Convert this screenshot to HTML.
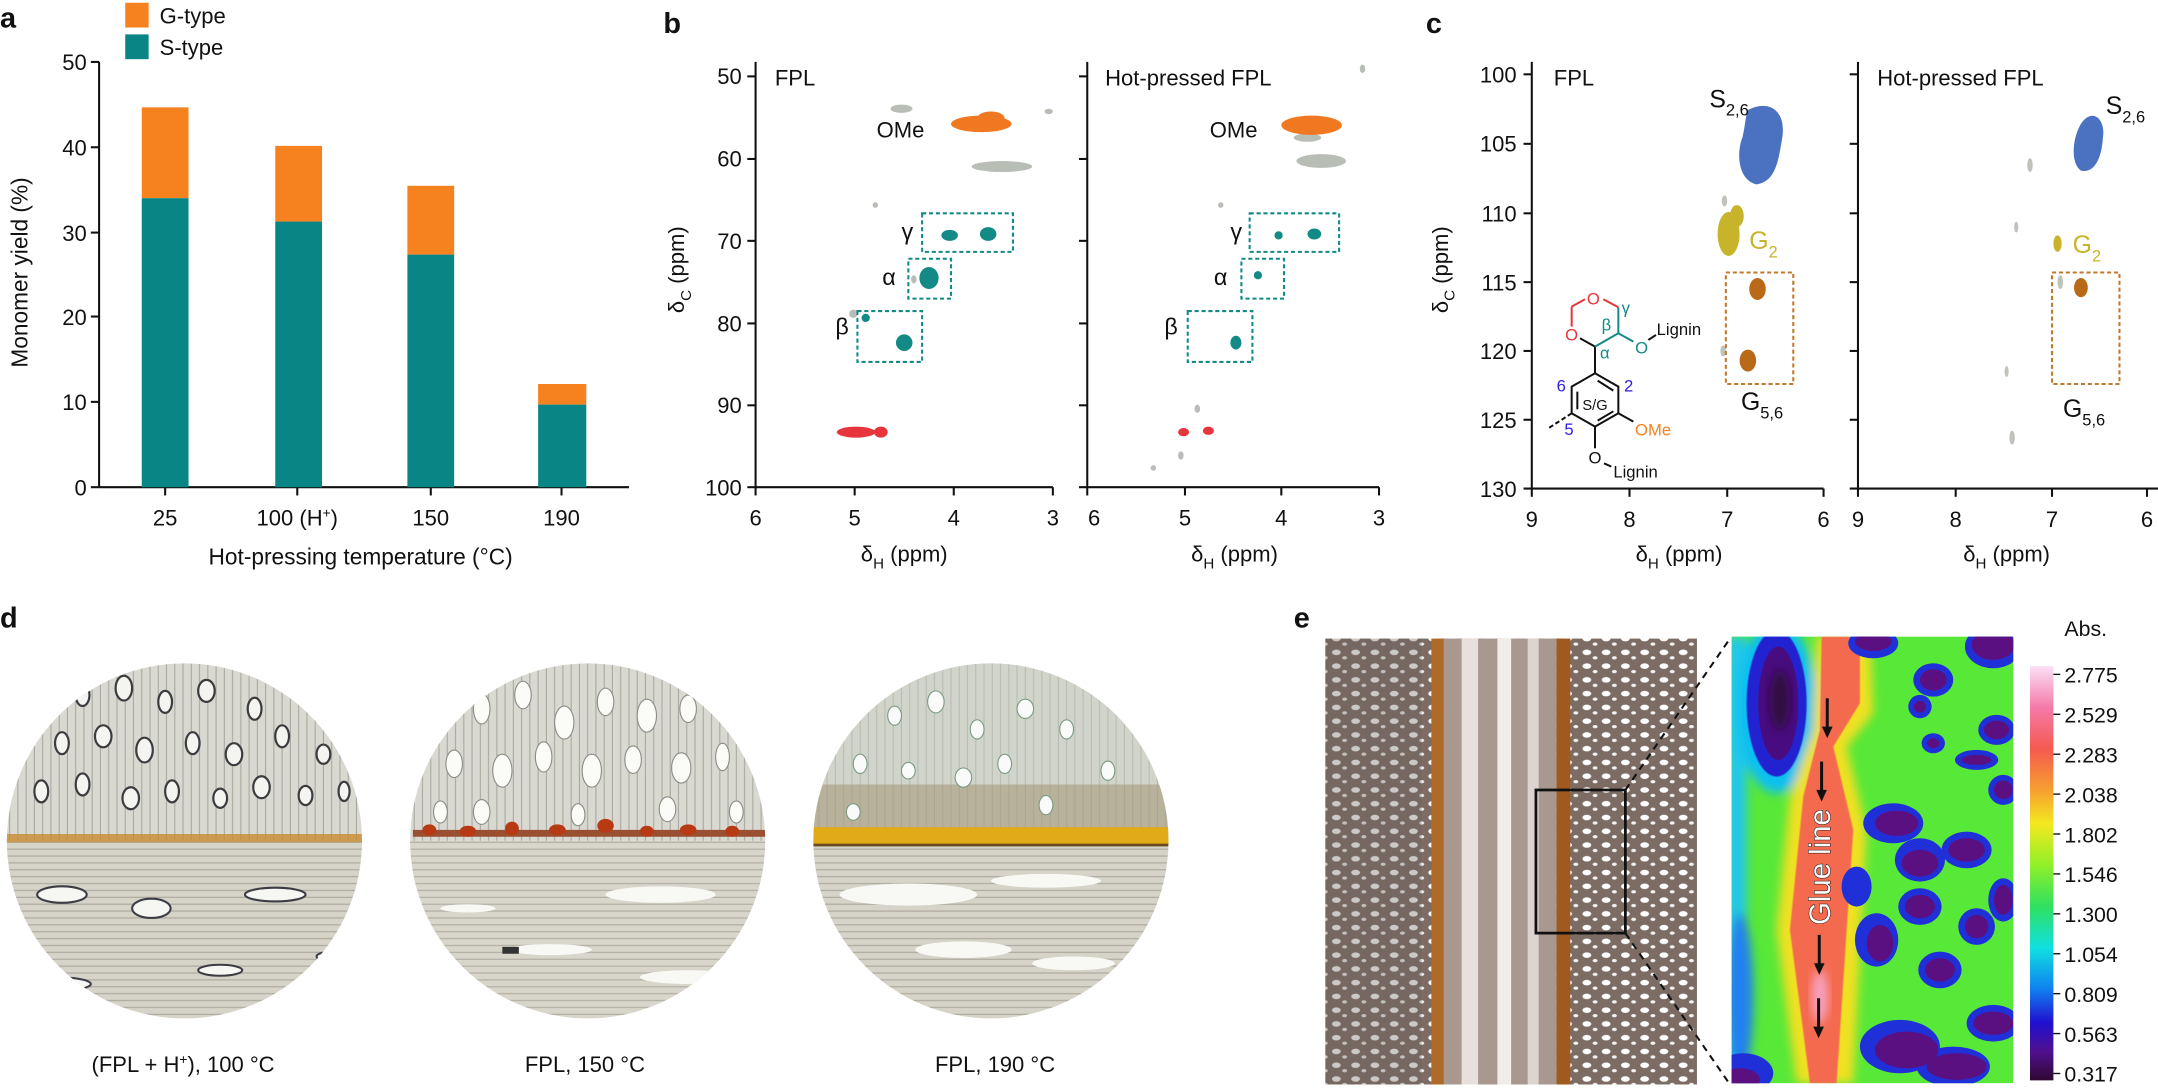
<!DOCTYPE html>
<html><head><meta charset="utf-8"><style>
html,body{margin:0;padding:0;background:#fff;}
svg{display:block;}
text{font-family:"Liberation Sans",Arial,sans-serif;fill:#111;}
</style></head><body>
<svg width="2158" height="1090" viewBox="0 0 1568 792" preserveAspectRatio="none" xmlns="http://www.w3.org/2000/svg">
<defs>
<filter id="bl" x="-20%" y="-20%" width="140%" height="140%"><feGaussianBlur stdDeviation="14"/></filter>
<filter id="bl2"><feGaussianBlur stdDeviation="1.2"/></filter>
<linearGradient id="cb" x1="0" y1="0" x2="0" y2="1">
<stop offset="0" stop-color="#fbe0f6"/><stop offset="0.1" stop-color="#f47aa8"/><stop offset="0.2" stop-color="#f55a50"/><stop offset="0.3" stop-color="#f6a030"/><stop offset="0.38" stop-color="#f4e820"/><stop offset="0.48" stop-color="#90f028"/><stop offset="0.58" stop-color="#30e060"/><stop offset="0.68" stop-color="#10e0e0"/><stop offset="0.78" stop-color="#1080f0"/><stop offset="0.86" stop-color="#2010d0"/><stop offset="0.93" stop-color="#501090"/><stop offset="1" stop-color="#300830"/>
</linearGradient>
<clipPath id="c1"><circle cx="134" cy="611" r="129"/></clipPath>
<clipPath id="c2"><circle cx="427" cy="611" r="129"/></clipPath>
<clipPath id="c3"><circle cx="720" cy="611" r="129"/></clipPath>
<clipPath id="hm"><rect x="35" y="20" width="845" height="1340"/></clipPath>
<pattern id="vs" width="6" height="10" patternUnits="userSpaceOnUse"><rect width="6" height="10" fill="#d9d9d2"/><line x1="1" y1="0" x2="1" y2="10" stroke="#a9a9a2" stroke-width="0.8"/></pattern>
<pattern id="hs" width="10" height="5" patternUnits="userSpaceOnUse"><rect width="10" height="5" fill="#d6d3c8"/><line x1="0" y1="2" x2="10" y2="2" stroke="#aaa79c" stroke-width="0.8"/></pattern>
<pattern id="br" width="14" height="10" patternUnits="userSpaceOnUse"><rect width="14" height="10" fill="#7c6c64"/><ellipse cx="5" cy="4" rx="3.2" ry="2" fill="#fff"/><ellipse cx="11" cy="8" rx="1.8" ry="1.2" fill="#f2f2f2"/></pattern>
</defs>

<!-- Panel a -->
<text x="0" y="20" font-size="21" font-weight="bold">a</text>
<rect x="91" y="2" width="17" height="18" fill="#f5821f"/>
<rect x="91" y="25" width="17" height="18" fill="#0a8585"/>
<text x="116" y="17" font-size="16">G-type</text>
<text x="116" y="40" font-size="16">S-type</text>
<g stroke="#111" stroke-width="1.5" fill="none">
<line x1="72" y1="45" x2="72" y2="354"/><line x1="72" y1="354" x2="457" y2="354"/>
<line x1="66" y1="45" x2="72" y2="45"/><line x1="66" y1="107" x2="72" y2="107"/><line x1="66" y1="169" x2="72" y2="169"/><line x1="66" y1="230" x2="72" y2="230"/><line x1="66" y1="292" x2="72" y2="292"/><line x1="66" y1="354" x2="72" y2="354"/>
<line x1="120" y1="354" x2="120" y2="360"/><line x1="216" y1="354" x2="216" y2="360"/><line x1="313" y1="354" x2="313" y2="360"/><line x1="408" y1="354" x2="408" y2="360"/>
</g>
<g font-size="16" text-anchor="end">
<text x="63" y="51">50</text><text x="63" y="113">40</text><text x="63" y="175">30</text><text x="63" y="236">20</text><text x="63" y="298">10</text><text x="63" y="360">0</text>
</g>
<rect x="103" y="78" width="34" height="66" fill="#f5821f"/><rect x="103" y="144" width="34" height="210" fill="#0a8585"/>
<rect x="200" y="106" width="34" height="55" fill="#f5821f"/><rect x="200" y="161" width="34" height="193" fill="#0a8585"/>
<rect x="296" y="135" width="34" height="50" fill="#f5821f"/><rect x="296" y="185" width="34" height="169" fill="#0a8585"/>
<rect x="391" y="279" width="35" height="15" fill="#f5821f"/><rect x="391" y="294" width="35" height="60" fill="#0a8585"/>
<g font-size="16" text-anchor="middle">
<text x="120" y="382">25</text><text x="216" y="382">100 (H<tspan font-size="10" dy="-6">+</tspan><tspan dy="6">)</tspan></text><text x="313" y="382">150</text><text x="408" y="382">190</text>
<text x="262" y="410" font-size="16.5">Hot-pressing temperature (°C)</text>
<text transform="translate(20,198) rotate(-90)" font-size="16.5">Monomer yield (%)</text>
</g>

<!-- Panel b -->
<text x="482" y="24" font-size="21" font-weight="bold">b</text>
<g stroke="#111" stroke-width="1.5">
<line x1="549" y1="45" x2="549" y2="354"/><line x1="549" y1="354" x2="765" y2="354"/>
<line x1="790" y1="45" x2="790" y2="354"/><line x1="784" y1="354" x2="1002" y2="354"/>
<line x1="543" y1="55.5" x2="549" y2="55.5"/><line x1="543" y1="115.5" x2="549" y2="115.5"/><line x1="543" y1="175" x2="549" y2="175"/><line x1="543" y1="235" x2="549" y2="235"/><line x1="543" y1="294.5" x2="549" y2="294.5"/><line x1="543" y1="354" x2="549" y2="354"/>
<line x1="784" y1="55.5" x2="790" y2="55.5"/><line x1="784" y1="115.5" x2="790" y2="115.5"/><line x1="784" y1="175" x2="790" y2="175"/><line x1="784" y1="235" x2="790" y2="235"/><line x1="784" y1="294.5" x2="790" y2="294.5"/>
<line x1="549" y1="354" x2="549" y2="360"/><line x1="621" y1="354" x2="621" y2="360"/><line x1="693" y1="354" x2="693" y2="360"/><line x1="765" y1="354" x2="765" y2="360"/>
<line x1="790" y1="354" x2="790" y2="360"/><line x1="861" y1="354" x2="861" y2="360"/><line x1="931" y1="354" x2="931" y2="360"/><line x1="1002" y1="354" x2="1002" y2="360"/>
</g>
<g font-size="16" text-anchor="end">
<text x="539" y="61">50</text><text x="539" y="121">60</text><text x="539" y="181">70</text><text x="539" y="241">80</text><text x="539" y="300">90</text><text x="539" y="360">100</text>
</g>
<g font-size="16" text-anchor="middle">
<text x="549" y="382">6</text><text x="621" y="382">5</text><text x="693" y="382">4</text><text x="765" y="382">3</text>
<text x="795" y="382">6</text><text x="861" y="382">5</text><text x="931" y="382">4</text><text x="1002" y="382">3</text>
<text x="657" y="408">δ<tspan font-size="11" dy="5">H</tspan><tspan dy="-5"> (ppm)</tspan></text>
<text x="897" y="408">δ<tspan font-size="11" dy="5">H</tspan><tspan dy="-5"> (ppm)</tspan></text>
<text transform="translate(497,196) rotate(-90)">δ<tspan font-size="11" dy="5">C</tspan><tspan dy="-5"> (ppm)</tspan></text>
</g>
<text x="563" y="62" font-size="16">FPL</text>
<text x="803" y="62" font-size="16">Hot-pressed FPL</text>
<!-- b left peaks -->
<g fill="#b8bdb6"><ellipse cx="655" cy="79" rx="8" ry="3"/><ellipse cx="728" cy="121" rx="22" ry="4"/><ellipse cx="762" cy="81" rx="3" ry="2"/><ellipse cx="636" cy="149" rx="2" ry="2"/><ellipse cx="664" cy="203" rx="2" ry="3"/><ellipse cx="620" cy="228" rx="3" ry="3"/></g>
<ellipse cx="713" cy="90" rx="22" ry="6" fill="#f07820"/><ellipse cx="720" cy="86" rx="10" ry="5" fill="#f07820"/>
<text x="637" y="100" font-size="16">OMe</text>
<ellipse cx="690" cy="171" rx="6" ry="4" fill="#138a85"/><ellipse cx="718" cy="170" rx="6" ry="5" fill="#138a85"/>
<ellipse cx="675" cy="202" rx="7" ry="8" fill="#138a85"/>
<ellipse cx="657" cy="249" rx="6" ry="6" fill="#138a85"/><ellipse cx="629" cy="231" rx="3" ry="3" fill="#138a85"/>
<ellipse cx="622" cy="314" rx="14" ry="4" fill="#e8343c"/><ellipse cx="640" cy="314" rx="5" ry="4" fill="#e8343c"/>
<g fill="none" stroke="#148a86" stroke-width="1.5" stroke-dasharray="3,2">
<rect x="670" y="155" width="66" height="28"/><rect x="660" y="188" width="31" height="29"/><rect x="623" y="226" width="47" height="37"/>
<rect x="908" y="155" width="65" height="28"/><rect x="902" y="188" width="31" height="29"/><rect x="863" y="226" width="47" height="37"/>
</g>
<g font-size="17"><text x="655" y="174">γ</text><text x="641" y="207">α</text><text x="607" y="243">β</text>
<text x="894" y="174">γ</text><text x="882" y="207">α</text><text x="846" y="243">β</text></g>
<!-- b right peaks -->
<g fill="#b8bdb6"><ellipse cx="960" cy="117" rx="18" ry="5"/><ellipse cx="950" cy="100" rx="10" ry="3"/><ellipse cx="990" cy="50" rx="2" ry="3"/><ellipse cx="887" cy="149" rx="2" ry="2"/><ellipse cx="858" cy="331" rx="2" ry="3"/><ellipse cx="838" cy="340" rx="2" ry="2"/><ellipse cx="870" cy="297" rx="2" ry="3"/></g>
<ellipse cx="953" cy="91" rx="22" ry="7" fill="#f07820"/>
<text x="879" y="100" font-size="16">OMe</text>
<ellipse cx="929" cy="171" rx="3" ry="3" fill="#138a85"/><ellipse cx="955" cy="170" rx="5" ry="4" fill="#138a85"/>
<ellipse cx="914" cy="200" rx="3" ry="3" fill="#138a85"/><ellipse cx="898" cy="249" rx="4" ry="5" fill="#138a85"/>
<ellipse cx="860" cy="314" rx="4" ry="3" fill="#e8343c"/><ellipse cx="878" cy="313" rx="4" ry="3" fill="#e8343c"/>

<!-- Panel c -->
<text x="1036" y="24" font-size="21" font-weight="bold">c</text>
<g stroke="#111" stroke-width="1.5">
<line x1="1113" y1="45" x2="1113" y2="355"/><line x1="1107" y1="355" x2="1325" y2="355"/>
<line x1="1350" y1="45" x2="1350" y2="355"/><line x1="1344" y1="355" x2="1568" y2="355"/>
<line x1="1107" y1="54" x2="1113" y2="54"/><line x1="1107" y1="104.5" x2="1113" y2="104.5"/><line x1="1107" y1="155" x2="1113" y2="155"/><line x1="1107" y1="205" x2="1113" y2="205"/><line x1="1107" y1="255" x2="1113" y2="255"/><line x1="1107" y1="305" x2="1113" y2="305"/>
<line x1="1344" y1="54" x2="1350" y2="54"/><line x1="1344" y1="104.5" x2="1350" y2="104.5"/><line x1="1344" y1="155" x2="1350" y2="155"/><line x1="1344" y1="205" x2="1350" y2="205"/><line x1="1344" y1="255" x2="1350" y2="255"/><line x1="1344" y1="305" x2="1350" y2="305"/>
<line x1="1113" y1="355" x2="1113" y2="361"/><line x1="1184" y1="355" x2="1184" y2="361"/><line x1="1255" y1="355" x2="1255" y2="361"/><line x1="1325" y1="355" x2="1325" y2="361"/>
<line x1="1350" y1="355" x2="1350" y2="361"/><line x1="1421" y1="355" x2="1421" y2="361"/><line x1="1491" y1="355" x2="1491" y2="361"/><line x1="1560" y1="355" x2="1560" y2="361"/>
</g>
<g font-size="16" text-anchor="end">
<text x="1102" y="60">100</text><text x="1102" y="110">105</text><text x="1102" y="161">110</text><text x="1102" y="211">115</text><text x="1102" y="261">120</text><text x="1102" y="311">125</text><text x="1102" y="361">130</text>
</g>
<g font-size="16" text-anchor="middle">
<text x="1113" y="383">9</text><text x="1184" y="383">8</text><text x="1255" y="383">7</text><text x="1325" y="383">6</text>
<text x="1350" y="383">9</text><text x="1421" y="383">8</text><text x="1491" y="383">7</text><text x="1560" y="383">6</text>
<text x="1220" y="408">δ<tspan font-size="11" dy="5">H</tspan><tspan dy="-5"> (ppm)</tspan></text>
<text x="1458" y="408">δ<tspan font-size="11" dy="5">H</tspan><tspan dy="-5"> (ppm)</tspan></text>
<text transform="translate(1052,196) rotate(-90)">δ<tspan font-size="11" dy="5">C</tspan><tspan dy="-5"> (ppm)</tspan></text>
</g>
<text x="1129" y="62" font-size="16">FPL</text>
<text x="1364" y="62" font-size="16">Hot-pressed FPL</text>
<!-- c left peaks -->
<path d="M1270,80 C1285,72 1298,80 1295,100 C1292,118 1290,132 1276,134 C1262,130 1262,110 1266,100 C1268,92 1268,86 1270,80Z" fill="#4a72c0"/>
<ellipse cx="1256" cy="170" rx="8" ry="16" fill="#c8b42a"/><ellipse cx="1262" cy="157" rx="5" ry="8" fill="#c8b42a"/>
<ellipse cx="1253" cy="146" rx="2" ry="4" fill="#bfc3bc"/>
<ellipse cx="1277" cy="210" rx="6" ry="8" fill="#b86a18"/><ellipse cx="1270" cy="262" rx="6" ry="8" fill="#b86a18"/>
<ellipse cx="1252" cy="255" rx="2" ry="4" fill="#bfc3bc"/>
<rect x="1254" y="198" width="49" height="81" fill="none" stroke="#c07a30" stroke-width="1.5" stroke-dasharray="3,2"/>
<text x="1242" y="78" font-size="18">S<tspan font-size="12" dy="6">2,6</tspan></text>
<text x="1271" y="181" font-size="18" fill="#c8b42a" style="fill:#c8b42a">G<tspan font-size="12" dy="6">2</tspan></text>
<text x="1265" y="298" font-size="18">G<tspan font-size="12" dy="6">5,6</tspan></text>
<!-- c right peaks -->
<path d="M1512,90 C1520,78 1530,86 1528,100 C1527,115 1522,126 1512,124 C1504,118 1506,100 1512,90Z" fill="#4a72c0"/>
<ellipse cx="1495" cy="177" rx="3" ry="6" fill="#c8b42a"/>
<ellipse cx="1512" cy="209" rx="5" ry="7" fill="#b86a18"/>
<g fill="#bfc3bc"><ellipse cx="1475" cy="120" rx="2" ry="5"/><ellipse cx="1497" cy="205" rx="2" ry="5"/><ellipse cx="1462" cy="318" rx="2" ry="5"/><ellipse cx="1465" cy="165" rx="1.5" ry="4"/><ellipse cx="1458" cy="270" rx="1.5" ry="4"/></g>
<rect x="1491" y="198" width="49" height="81" fill="none" stroke="#c07a30" stroke-width="1.5" stroke-dasharray="3,2"/>
<text x="1530" y="83" font-size="18">S<tspan font-size="12" dy="6">2,6</tspan></text>
<text x="1506" y="184" font-size="18" style="fill:#c8b42a">G<tspan font-size="12" dy="6">2</tspan></text>
<text x="1499" y="303" font-size="18">G<tspan font-size="12" dy="6">5,6</tspan></text>
<!-- structure -->
<g transform="translate(1111.7,145.3) scale(0.2422)" stroke-width="6" fill="none">
<path d="M195,520 L265,560 L265,640 L195,680 L125,640 L125,560 Z" stroke="#111"/>
<line x1="142" y1="575" x2="142" y2="628" stroke="#111"/><line x1="203" y1="662" x2="250" y2="634" stroke="#111"/><line x1="250" y1="572" x2="203" y2="542" stroke="#111"/>
<line x1="195" y1="520" x2="195" y2="440" stroke="#111"/>
<line x1="195" y1="440" x2="150" y2="415" stroke="#111"/>
<line x1="195" y1="440" x2="265" y2="400" stroke="#138a85"/><line x1="265" y1="400" x2="265" y2="322" stroke="#138a85"/>
<line x1="265" y1="322" x2="220" y2="298" stroke="#e8343c"/><line x1="165" y1="298" x2="125" y2="320" stroke="#e8343c"/><line x1="125" y1="320" x2="125" y2="380" stroke="#e8343c"/>
<line x1="265" y1="400" x2="310" y2="425" stroke="#138a85"/><line x1="355" y1="420" x2="378" y2="405" stroke="#111"/>
<line x1="265" y1="640" x2="310" y2="665" stroke="#111"/>
<line x1="195" y1="680" x2="195" y2="745" stroke="#111"/><line x1="222" y1="790" x2="244" y2="800" stroke="#111"/>
<line x1="125" y1="640" x2="55" y2="685" stroke="#111" stroke-dasharray="14,8"/>
<g stroke="none" font-size="50">
<text x="190" y="313" text-anchor="middle" style="fill:#e8343c">O</text>
<text x="125" y="422" text-anchor="middle" style="fill:#e8343c">O</text>
<text x="335" y="460" text-anchor="middle" style="fill:#138a85">O</text>
<text x="380" y="405">Lignin</text>
<text x="215" y="392" style="fill:#138a85">β</text><text x="210" y="475" style="fill:#138a85">α</text><text x="275" y="340" style="fill:#138a85">γ</text>
<text x="195" y="630" text-anchor="middle" font-size="44">S/G</text>
<text x="315" y="707" style="fill:#f5821f">OMe</text>
<text x="195" y="790" text-anchor="middle">O</text>
<text x="250" y="832">Lignin</text>
<text x="80" y="575" style="fill:#3020e0">6</text><text x="282" y="575" style="fill:#3020e0">2</text><text x="103" y="705" style="fill:#3020e0">5</text>
</g>
</g>

<!-- Panel d -->
<text x="0" y="456" font-size="21" font-weight="bold">d</text>
<g clip-path="url(#c1)">
<rect x="0" y="480" width="270" height="131" fill="url(#vs)"/>
<rect x="0" y="611" width="270" height="135" fill="url(#hs)"/>
<g fill="#f4f4f0" stroke="#3c3c40" stroke-width="1.6">
<ellipse cx="60" cy="505" rx="5" ry="8"/><ellipse cx="90" cy="500" rx="6" ry="9"/><ellipse cx="120" cy="510" rx="5" ry="8"/><ellipse cx="150" cy="502" rx="6" ry="8"/><ellipse cx="185" cy="515" rx="5" ry="8"/><ellipse cx="45" cy="540" rx="5" ry="8"/><ellipse cx="75" cy="535" rx="6" ry="8"/><ellipse cx="105" cy="545" rx="6" ry="9"/><ellipse cx="140" cy="540" rx="5" ry="8"/><ellipse cx="170" cy="548" rx="6" ry="8"/><ellipse cx="205" cy="535" rx="5" ry="8"/><ellipse cx="235" cy="548" rx="5" ry="7"/><ellipse cx="30" cy="575" rx="5" ry="8"/><ellipse cx="60" cy="570" rx="5" ry="8"/><ellipse cx="95" cy="580" rx="6" ry="8"/><ellipse cx="125" cy="575" rx="5" ry="8"/><ellipse cx="160" cy="580" rx="5" ry="7"/><ellipse cx="190" cy="572" rx="6" ry="8"/><ellipse cx="222" cy="578" rx="5" ry="7"/><ellipse cx="250" cy="575" rx="4" ry="7"/>
</g>
<rect x="0" y="606" width="270" height="6" fill="#c88a30" opacity="0.8"/>
<g fill="#f6f6f2" stroke="#3c3c44" stroke-width="1.5">
<ellipse cx="45" cy="650" rx="18" ry="6"/><ellipse cx="110" cy="660" rx="14" ry="7"/><ellipse cx="200" cy="650" rx="22" ry="5"/><ellipse cx="40" cy="715" rx="26" ry="5"/><ellipse cx="160" cy="705" rx="16" ry="4"/><ellipse cx="245" cy="695" rx="15" ry="4"/>
</g>
</g>
<g clip-path="url(#c2)">
<rect x="290" y="480" width="270" height="131" fill="url(#vs)"/>
<rect x="290" y="611" width="270" height="135" fill="url(#hs)" opacity="0.95"/>
<g fill="#fbfbf8" stroke="#8a8a86" stroke-width="0.8">
<ellipse cx="350" cy="515" rx="6" ry="11"/><ellipse cx="380" cy="505" rx="6" ry="10"/><ellipse cx="410" cy="525" rx="7" ry="12"/><ellipse cx="440" cy="510" rx="6" ry="10"/><ellipse cx="470" cy="520" rx="7" ry="12"/><ellipse cx="500" cy="515" rx="6" ry="10"/><ellipse cx="330" cy="555" rx="6" ry="10"/><ellipse cx="365" cy="560" rx="7" ry="12"/><ellipse cx="395" cy="550" rx="6" ry="11"/><ellipse cx="430" cy="560" rx="7" ry="12"/><ellipse cx="460" cy="552" rx="6" ry="10"/><ellipse cx="495" cy="558" rx="7" ry="11"/><ellipse cx="525" cy="550" rx="5" ry="10"/><ellipse cx="320" cy="590" rx="5" ry="8"/><ellipse cx="350" cy="590" rx="6" ry="9"/><ellipse cx="420" cy="592" rx="5" ry="8"/><ellipse cx="485" cy="588" rx="6" ry="9"/><ellipse cx="535" cy="590" rx="5" ry="8"/>
</g>
<g fill="#b83a14"><rect x="300" y="603" width="260" height="5" fill="#9a5030"/><ellipse cx="312" cy="603" rx="5" ry="4"/><ellipse cx="340" cy="604" rx="6" ry="4"/><ellipse cx="372" cy="602" rx="5" ry="5"/><ellipse cx="405" cy="603" rx="6" ry="4"/><ellipse cx="440" cy="600" rx="6" ry="5"/><ellipse cx="470" cy="604" rx="5" ry="4"/><ellipse cx="500" cy="603" rx="6" ry="4"/><ellipse cx="532" cy="604" rx="5" ry="4"/></g>
<g fill="#f8f8f4"><ellipse cx="480" cy="650" rx="40" ry="6"/><ellipse cx="400" cy="690" rx="30" ry="4"/><ellipse cx="500" cy="710" rx="35" ry="5"/><ellipse cx="340" cy="660" rx="20" ry="3"/></g>
<rect x="365" y="688" width="12" height="5" fill="#333"/>
</g>
<g clip-path="url(#c3)">
<rect x="585" y="480" width="270" height="131" fill="#c9cfc2"/>
<rect x="585" y="480" width="270" height="131" fill="url(#vs)" opacity="0.5"/>
<rect x="585" y="570" width="270" height="35" fill="#a09070" opacity="0.5"/>
<rect x="585" y="611" width="270" height="135" fill="url(#hs)"/>
<g fill="#fafafa" stroke="#7a9a80" stroke-width="0.8">
<ellipse cx="650" cy="520" rx="5" ry="7"/><ellipse cx="680" cy="510" rx="6" ry="8"/><ellipse cx="710" cy="530" rx="5" ry="7"/><ellipse cx="745" cy="515" rx="6" ry="7"/><ellipse cx="775" cy="530" rx="5" ry="7"/><ellipse cx="625" cy="555" rx="5" ry="7"/><ellipse cx="660" cy="560" rx="5" ry="6"/><ellipse cx="700" cy="565" rx="6" ry="7"/><ellipse cx="730" cy="555" rx="5" ry="7"/><ellipse cx="805" cy="560" rx="5" ry="7"/><ellipse cx="620" cy="590" rx="5" ry="6"/><ellipse cx="760" cy="585" rx="5" ry="7"/>
</g>
<rect x="585" y="601" width="270" height="13" fill="#e0aa18"/>
<rect x="585" y="613" width="270" height="2" fill="#6a4a20"/>
<g fill="#f8f8f4"><ellipse cx="660" cy="650" rx="50" ry="8"/><ellipse cx="760" cy="640" rx="40" ry="5"/><ellipse cx="700" cy="690" rx="35" ry="6"/><ellipse cx="780" cy="700" rx="30" ry="5"/></g>
</g>
<g font-size="16" text-anchor="middle">
<text x="133" y="779">(FPL + H<tspan font-size="10" dy="-6">+</tspan><tspan dy="6">), 100 °C</tspan></text>
<text x="425" y="779">FPL, 150 °C</text>
<text x="723" y="779">FPL, 190 °C</text>
</g>

<!-- Panel e -->
<text x="940" y="456" font-size="21" font-weight="bold">e</text>
<rect x="963" y="464" width="270" height="324" fill="url(#br)"/>
<rect x="963" y="464" width="70" height="324" fill="#6e625c" opacity="0.35"/>
<rect x="1040" y="464" width="9" height="324" fill="#b06a28"/>
<rect x="1049" y="464" width="82" height="324" fill="#a89890"/>
<rect x="1062" y="464" width="12" height="324" fill="#e8e0dc"/><rect x="1088" y="464" width="10" height="324" fill="#f0ece8"/><rect x="1110" y="464" width="8" height="324" fill="#ddd4d0"/>
<rect x="1131" y="464" width="10" height="324" fill="#a05a20"/>
<rect x="1116" y="574" width="65" height="104" fill="none" stroke="#111" stroke-width="2"/>
<g stroke="#111" stroke-width="1.5" stroke-dasharray="5,4"><line x1="1181" y1="574" x2="1257" y2="464"/><line x1="1181" y1="678" x2="1257" y2="788"/></g>
<g transform="translate(1249.7,457.7) scale(0.2422)">
<g clip-path="url(#hm)">
<rect x="35" y="20" width="845" height="1340" fill="#58e838"/>
<g filter="url(#bl)">
<rect x="20" y="20" width="60" height="1340" fill="#20c8e8"/>
<ellipse cx="60" cy="1100" rx="40" ry="250" fill="#2080f0"/>
<ellipse cx="170" cy="230" rx="120" ry="260" fill="#10c0f0"/>
<path d="M290,20 L450,20 L460,250 L380,350 L440,600 L400,1360 L230,1360 L170,900 L210,500 L280,300Z" fill="#f0e020"/>
</g>
<ellipse cx="170" cy="220" rx="90" ry="220" fill="#2020d0" filter="url(#bl2)"/>
<ellipse cx="175" cy="220" rx="60" ry="170" fill="#480c80"/>
<ellipse cx="180" cy="210" rx="30" ry="90" fill="#320a40" filter="url(#bl)"/>
<path d="M305,20 L420,20 L420,220 L340,350 L400,600 L350,1360 L270,1360 L210,900 L250,500 L300,300Z" fill="#f46a50" filter="url(#bl2)"/>
<ellipse cx="300" cy="1100" rx="25" ry="80" fill="#f8a0c0" filter="url(#bl)"/>
<g fill="#2030d8">
<ellipse cx="640" cy="150" rx="60" ry="50"/><ellipse cx="600" cy="230" rx="35" ry="35"/><ellipse cx="830" cy="300" rx="55" ry="45"/><ellipse cx="640" cy="340" rx="35" ry="30"/><ellipse cx="770" cy="390" rx="65" ry="30"/><ellipse cx="850" cy="480" rx="45" ry="45"/><ellipse cx="520" cy="580" rx="90" ry="60"/><ellipse cx="740" cy="660" rx="75" ry="55"/><ellipse cx="600" cy="690" rx="75" ry="65"/><ellipse cx="850" cy="810" rx="45" ry="65"/><ellipse cx="600" cy="830" rx="65" ry="55"/><ellipse cx="770" cy="890" rx="55" ry="55"/><ellipse cx="470" cy="930" rx="65" ry="80"/><ellipse cx="660" cy="1020" rx="65" ry="55"/><ellipse cx="820" cy="1180" rx="80" ry="55"/><ellipse cx="540" cy="1250" rx="120" ry="80"/><ellipse cx="700" cy="1310" rx="110" ry="60"/><ellipse cx="460" cy="40" rx="75" ry="45"/><ellipse cx="820" cy="50" rx="85" ry="65"/><ellipse cx="410" cy="770" rx="45" ry="60"/><ellipse cx="70" cy="1330" rx="90" ry="60"/>
</g>
<g fill="#5a1080">
<ellipse cx="640" cy="150" rx="40" ry="32"/><ellipse cx="600" cy="230" rx="18" ry="18"/><ellipse cx="830" cy="300" rx="38" ry="28"/><ellipse cx="640" cy="340" rx="18" ry="15"/><ellipse cx="770" cy="390" rx="45" ry="15"/><ellipse cx="850" cy="480" rx="28" ry="28"/><ellipse cx="530" cy="580" rx="65" ry="38"/><ellipse cx="740" cy="660" rx="55" ry="35"/><ellipse cx="600" cy="700" rx="55" ry="40"/><ellipse cx="850" cy="810" rx="28" ry="45"/><ellipse cx="600" cy="830" rx="45" ry="35"/><ellipse cx="770" cy="890" rx="35" ry="35"/><ellipse cx="480" cy="940" rx="40" ry="55"/><ellipse cx="660" cy="1020" rx="45" ry="35"/><ellipse cx="820" cy="1180" rx="60" ry="35"/><ellipse cx="560" cy="1260" rx="95" ry="55"/><ellipse cx="710" cy="1310" rx="90" ry="40"/><ellipse cx="460" cy="35" rx="55" ry="28"/><ellipse cx="820" cy="45" rx="65" ry="45"/><ellipse cx="60" cy="1350" rx="60" ry="35"/>
</g>
</g>
<g stroke="#111" stroke-width="9" fill="#111">
<line x1="322" y1="205" x2="322" y2="300"/><path d="M306,290 L322,325 L338,290Z" stroke="none"/>
<line x1="305" y1="395" x2="305" y2="490"/><path d="M289,480 L305,515 L321,480Z" stroke="none"/>
<line x1="298" y1="915" x2="298" y2="1010"/><path d="M282,1000 L298,1035 L314,1000Z" stroke="none"/>
<line x1="296" y1="1105" x2="296" y2="1200"/><path d="M280,1190 L296,1225 L312,1190Z" stroke="none"/>
</g>
<text transform="translate(330,885) rotate(-90)" font-size="88" style="fill:#fff" stroke="#111" stroke-width="3" paint-order="stroke">Glue line</text>
</g>
<rect x="1475" y="484" width="17" height="301" fill="url(#cb)"/>
<g stroke="#111" stroke-width="1">
<line x1="1492" y1="490" x2="1497" y2="490"/><line x1="1492" y1="519" x2="1497" y2="519"/><line x1="1492" y1="548" x2="1497" y2="548"/><line x1="1492" y1="577" x2="1497" y2="577"/><line x1="1492" y1="606" x2="1497" y2="606"/><line x1="1492" y1="635" x2="1497" y2="635"/><line x1="1492" y1="664" x2="1497" y2="664"/><line x1="1492" y1="693" x2="1497" y2="693"/><line x1="1492" y1="722" x2="1497" y2="722"/><line x1="1492" y1="751" x2="1497" y2="751"/><line x1="1492" y1="780" x2="1497" y2="780"/>
</g>
<g font-size="15.5">
<text x="1500" y="462">Abs.</text>
<text x="1500" y="496">2.775</text><text x="1500" y="525">2.529</text><text x="1500" y="554">2.283</text><text x="1500" y="583">2.038</text><text x="1500" y="612">1.802</text><text x="1500" y="641">1.546</text><text x="1500" y="670">1.300</text><text x="1500" y="699">1.054</text><text x="1500" y="728">0.809</text><text x="1500" y="757">0.563</text><text x="1500" y="786">0.317</text>
</g>
</svg>
</body></html>
